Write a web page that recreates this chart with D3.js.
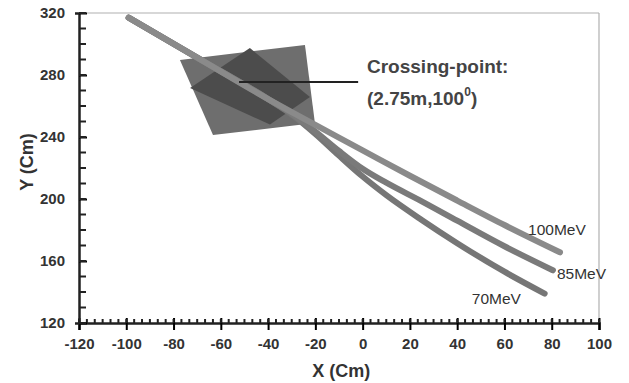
<!DOCTYPE html>
<html>
<head>
<meta charset="utf-8">
<script src="https://cdn.jsdelivr.net/npm/d3@7"></script>
<style>
  body { margin: 0; background: #fff; }
  svg { display: block; font-family: "Liberation Sans", Arial, sans-serif; }
</style>
</head>
<body>
<svg id="chart"></svg>
<script>
// x ticks and y ticks
var xTicks = [-120, -100, -80, -60, -40, -20, 0, 20, 40, 60, 80, 100];
var yTicks = [120, 160, 200, 240, 280, 320];

// trajectories (x, y in cm)
var traj100 = [[-99, 317], [-70, 291.2], [-40, 264.5], [-30, 256], [-20, 247.8], [0, 231.4], [20, 215], [40, 199], [60, 183.2], [83.5, 165.6]];
var traj85 = [[-99, 317], [-70, 291.2], [-40, 264.5], [-30, 255], [-20, 243.5], [-10, 231], [0, 219.5], [10, 210.5], [25, 198.5], [40, 186], [60, 169.5], [80.5, 154]];
var traj70 = [[-99, 317], [-70, 291.2], [-40, 264.5], [-30, 254.5], [-20, 242], [-10, 228], [0, 214.5], [10, 202.5], [25, 186.5], [40, 171.5], [60, 153.1], [77, 139]];
var trajLabels = ["100MeV", "85MeV", "70MeV"];

// detector region: outer quadrilateral and inner overlap diamond
var outerQuad = [[-77.3, 289.7], [-24.4, 299.4], [-20.2, 249], [-63.3, 241.3]];
var innerDiamond = [[-47.7, 297.4], [-22.3, 265.8], [-39.2, 248], [-73, 271.6]];

// crossing point marker line
var crossLine = [[-52.3, 275.5], [-1.9, 275.5]];

var width = 629, height = 383;
var margin = { top: 13, left: 79, right: 30, bottom: 60 };
var w = width - margin.left - margin.right;
var h = height - margin.top - margin.bottom;

var svg = d3.select("#chart").attr("width", width).attr("height", height);
var g = svg.append("g").attr("transform", "translate(" + [margin.left, margin.top] + ")");

var x = d3.scaleLinear().domain([-120, 100]).range([0, w]);
var y = d3.scaleLinear().domain([120, 320]).range([h, 0]);

// frame top / right
g.append("line").attr("x1", 0).attr("x2", w).attr("y1", 0).attr("y2", 0)
    .attr("stroke", "#b0b0b0").attr("stroke-width", 1.2);
g.append("line").attr("x1", w).attr("x2", w).attr("y1", 0).attr("y2", h)
    .attr("stroke", "#b0b0b0").attr("stroke-width", 1.2);

// detector shapes
var poly = d3.line().x(function (d) { return x(d[0]); }).y(function (d) { return y(d[1]); });
g.append("path").attr("d", poly(outerQuad) + "Z").attr("fill", "#6e6e6e");
g.append("path").attr("d", poly(innerDiamond) + "Z").attr("fill", "#4c4c4c");

// trajectories
var curve = d3.line().curve(d3.curveMonotoneX)
    .x(function (d) { return x(d[0]); }).y(function (d) { return y(d[1]); });
var trajs = [traj70, traj85, traj100];
var colors = ["#767676", "#7a7a7a", "#8a8a8a"];
trajs.forEach(function (t, i) {
    g.append("path").attr("d", curve(t)).attr("fill", "none")
        .attr("stroke", colors[i]).attr("stroke-width", 6).attr("stroke-linecap", "round");
});

// crossing line
g.append("path").attr("d", poly(crossLine)).attr("stroke", "#222").attr("stroke-width", 2);

// axes
var fmt = function (d) { return String(d); };
var xAxis = g.append("g").attr("transform", "translate(0," + h + ")")
    .call(d3.axisBottom(x).tickValues(xTicks).tickFormat(fmt).tickSize(7).tickPadding(8));
var xMinor = d3.range(-120, 100.01, 20 / 6);
g.append("g").attr("transform", "translate(0," + h + ")")
    .selectAll("line").data(xMinor).enter().append("line")
    .attr("x1", function (d) { return x(d); }).attr("x2", function (d) { return x(d); })
    .attr("y1", 0).attr("y2", -4).attr("stroke", "#222").attr("stroke-width", 2);
xAxis.selectAll(".tick line").attr("y1", -5).attr("stroke-width", 2);

var yAxis = g.append("g")
    .call(d3.axisLeft(y).tickValues(yTicks).tickFormat(fmt).tickSize(4).tickPadding(10));
var yMinor = d3.range(120, 320.01, 10);
g.append("g").selectAll("line").data(yMinor).enter().append("line")
    .attr("y1", function (d) { return y(d); }).attr("y2", function (d) { return y(d); })
    .attr("x1", 0).attr("x2", 7).attr("stroke", "#222").attr("stroke-width", 2);
yAxis.selectAll(".tick line").attr("x2", 8).attr("stroke-width", 2);

[xAxis, yAxis].forEach(function (a) {
    a.select(".domain").attr("stroke", "#222").attr("stroke-width", 2.5);
    a.selectAll(".tick text").attr("fill", "#333").style("font-size", "15px").style("font-weight", "bold");
});

// axis titles
svg.append("text").attr("x", margin.left + x(-9)).attr("y", 377)
    .attr("text-anchor", "middle").attr("fill", "#333")
    .style("font-size", "18px").style("font-weight", "bold").text("X (Cm)");
svg.append("text").attr("transform", "translate(33," + 162 + ") rotate(-90)")
    .attr("text-anchor", "middle").attr("fill", "#333")
    .style("font-size", "18px").style("font-weight", "bold").text("Y (Cm)");

// trajectory labels
var labelPos = [[x(70), y(176.8)], [x(82.2), y(148.4)], [x(46.2), y(132.3)]];
trajLabels.forEach(function (t, i) {
    g.append("text").attr("x", labelPos[i][0]).attr("y", labelPos[i][1])
        .attr("fill", "#333").style("font-size", "15.5px").text(t);
});

// annotation
var ann = g.append("g").attr("fill", "#444").style("font-size", "19px").style("font-weight", "bold");
ann.append("text").attr("x", 367 - margin.left).attr("y", 73 - margin.top).text("Crossing-point:");
var t2 = ann.append("text").attr("x", 367 - margin.left).attr("y", 105 - margin.top);
t2.append("tspan").text("(2.75m,100");
t2.append("tspan").attr("dy", -9).style("font-size", "12px").text("0");
t2.append("tspan").attr("dy", 9).text(")");
</script>
</body>
</html>
